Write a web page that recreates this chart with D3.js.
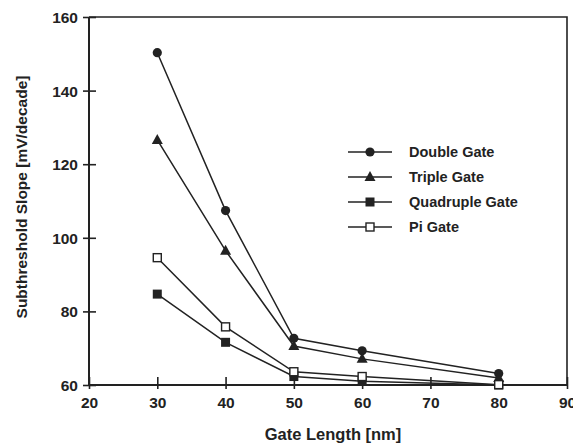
<!DOCTYPE html>
<html>
<head>
<meta charset="utf-8">
<script src="https://cdn.jsdelivr.net/npm/d3@7"></script>
<style>
  html, body { margin: 0; padding: 0; background: #fff; }
  svg text { font-family: "Liberation Sans", Arial, sans-serif; font-weight: bold; fill: #222; }
</style>
</head>
<body>
<svg id="chart" width="573" height="446"></svg>
<script>
// 데이터
const gateLengths = [30, 40, 50, 60, 80];
const seriesNames = ['Double Gate', 'Triple Gate', 'Quadruple Gate', 'Pi Gate'];
const doubleGate    = [150.3, 107.4, 72.7, 69.3, 63.1];
const tripleGate    = [126.6, 96.5, 70.6, 67.1, 61.9];
const quadrupleGate = [84.7, 71.6, 62.3, 61.0, 60.0];
const piGate        = [94.6, 75.8, 63.6, 62.3, 60.1];
const xTicks = [20, 30, 40, 50, 60, 70, 80, 90];
const yTicks = [60, 80, 100, 120, 140, 160];

const allSeries = [doubleGate, tripleGate, quadrupleGate, piGate];
const markers = ['circle', 'triangle', 'square', 'openSquare'];

const svg = d3.select('#chart');
const M = { left: 89, right: 567, top: 17, bottom: 385 };
const ink = '#222';

const x = d3.scaleLinear().domain([20, 90]).range([M.left, M.right]);
const y = d3.scaleLinear().domain([60, 160]).range([M.bottom, M.top]);

// 프레임 (위/오른쪽)
svg.append('path')
  .attr('d', `M${M.left},${M.top}H${M.right}V${M.bottom}`)
  .attr('fill', 'none').attr('stroke', ink).attr('stroke-width', 1.6);

// x 축
const xAxis = svg.append('g').attr('transform', `translate(0,${M.bottom})`);
xAxis.call(d3.axisBottom(x).tickValues(d3.range(25, 90, 10)).tickSize(5).tickFormat(''));
xAxis.call(d3.axisBottom(x).tickValues(xTicks).tickSizeInner(4).tickSizeOuter(0).tickFormat(d3.format('d')));
xAxis.selectAll('.tick line').attr('stroke', ink).attr('stroke-width', 1.6);
xAxis.selectAll('.tick').filter(d => xTicks.includes(d)).select('line').attr('y1', -8).attr('y2', 4);
xAxis.selectAll('text').attr('font-size', 15.5).attr('dy', '1.0em').attr('fill', ink);

// y 축
const yAxis = svg.append('g').attr('transform', `translate(${M.left},0)`);
yAxis.call(d3.axisLeft(y).tickValues(d3.range(70, 160, 20)).tickSize(4).tickFormat(''));
yAxis.call(d3.axisLeft(y).tickValues(yTicks).tickSizeInner(6).tickSizeOuter(0).tickFormat(d3.format('d')));
yAxis.selectAll('.tick line').attr('stroke', ink).attr('stroke-width', 1.6);
yAxis.selectAll('.tick').filter(d => yTicks.includes(d)).select('line').attr('x1', -6).attr('x2', 7);
yAxis.selectAll('text').attr('font-size', 15.5).attr('x', -11).attr('dy', '0.36em').attr('fill', ink);
svg.selectAll('.domain').attr('d', null);
svg.append('line').attr('x1', M.left).attr('x2', M.right).attr('y1', M.bottom).attr('y2', M.bottom)
  .attr('stroke', ink).attr('stroke-width', 2);
svg.append('line').attr('x1', M.left).attr('x2', M.left).attr('y1', M.top).attr('y2', M.bottom)
  .attr('stroke', ink).attr('stroke-width', 2);

// 축 제목
svg.append('text').attr('x', 333).attr('y', 440).attr('text-anchor', 'middle')
  .attr('font-size', 16.5).text('Gate Length [nm]');
svg.append('text').attr('transform', 'translate(27,197) rotate(-90)').attr('text-anchor', 'middle')
  .attr('font-size', 15.5).text('Subthreshold Slope [mV/decade]');

// 마커
function drawMarker(g, type, cx, cy) {
  if (type === 'circle') {
    g.append('circle').attr('cx', cx).attr('cy', cy).attr('r', 4.6).attr('fill', ink);
  } else if (type === 'triangle') {
    g.append('path').attr('d', `M${cx},${cy - 6}L${cx + 5.5},${cy + 4}L${cx - 5.5},${cy + 4}Z`).attr('fill', ink);
  } else if (type === 'square') {
    g.append('rect').attr('x', cx - 4.5).attr('y', cy - 4.5).attr('width', 9).attr('height', 9).attr('fill', ink);
  } else {
    g.append('rect').attr('x', cx - 4).attr('y', cy - 4).attr('width', 8).attr('height', 8)
      .attr('fill', '#fff').attr('stroke', ink).attr('stroke-width', 1.4);
  }
}

const line = d3.line().x((d, i) => x(gateLengths[i])).y(d => y(d));
allSeries.forEach((vals, si) => {
  const g = svg.append('g');
  g.append('path').datum(vals).attr('d', line)
    .attr('fill', 'none').attr('stroke', ink).attr('stroke-width', 1.5);
  vals.forEach((v, i) => drawMarker(g, markers[si], x(gateLengths[i]), y(v)));
});

// 범례
const legendY = [152, 177, 202, 227];
seriesNames.forEach((name, i) => {
  const g = svg.append('g');
  g.append('line').attr('x1', 348).attr('x2', 392).attr('y1', legendY[i]).attr('y2', legendY[i])
    .attr('stroke', ink).attr('stroke-width', 1.5);
  drawMarker(g, markers[i], 370, legendY[i]);
  g.append('text').attr('x', 409).attr('y', legendY[i]).attr('dy', '0.36em')
    .attr('font-size', 14.5).text(name);
});
</script>
</body>
</html>
